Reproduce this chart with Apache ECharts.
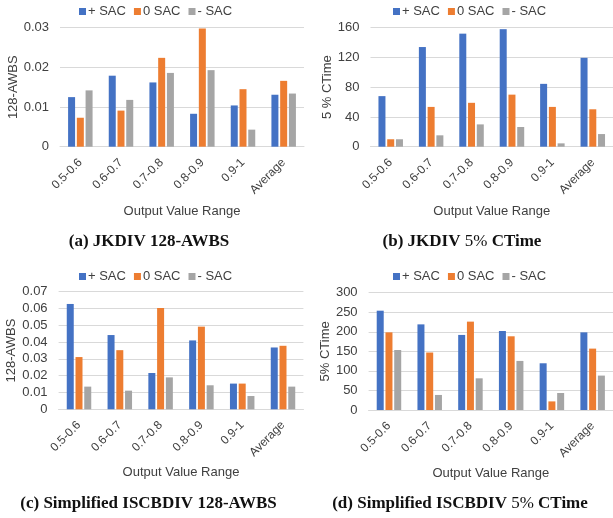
<!DOCTYPE html>
<html>
<head>
<meta charset="utf-8">
<script src="https://cdn.jsdelivr.net/npm/echarts@6/dist/echarts.min.js"></script>
<style>html,body{margin:0;padding:0;background:#fff}#c{width:613px;height:518px}</style>
</head>
<body>
<div id="c"></div>
<script>
const categories = ['0.5-0.6', '0.6-0.7', '0.7-0.8', '0.8-0.9', '0.9-1', 'Average'];
const seriesNames = ['+ SAC', '0 SAC', '- SAC'];

// (a) JKDIV 128-AWBS
const jkAwbsPlus  = [0.0125, 0.0179, 0.0162, 0.0083, 0.0104, 0.0131];
const jkAwbsZero  = [0.0073, 0.0091, 0.0224, 0.0298, 0.0145, 0.0166];
const jkAwbsMinus = [0.0142, 0.0118, 0.0186, 0.0193, 0.0043, 0.0134];

// (b) JKDIV 5% CTime
const jkTimePlus  = [68, 134, 152, 158, 84.5, 119.5];
const jkTimeZero  = [10, 53.5, 59, 70, 53.5, 50.3];
const jkTimeMinus = [10, 15.3, 30, 26.5, 4.5, 17];

// (c) Simplified ISCBDIV 128-AWBS
const isAwbsPlus  = [0.0627, 0.0442, 0.0216, 0.0410, 0.0153, 0.0368];
const isAwbsZero  = [0.0311, 0.0352, 0.0603, 0.0492, 0.0153, 0.0378];
const isAwbsMinus = [0.0135, 0.0111, 0.0190, 0.0143, 0.0079, 0.0135];

// (d) Simplified ISCBDIV 5% CTime
const isTimePlus  = [254, 219, 192, 202, 119.5, 198.6];
const isTimeZero  = [198.6, 147, 226, 188.5, 22, 157];
const isTimeMinus = [153.5, 38.5, 81, 125.5, 43.5, 88];

const yTitles = ['128-AWBS', '5 % CTime', '128-AWBS', '5% CTime'];
const xTitle = 'Output Value Range';
const captions = [
  '{b|(a) JKDIV 128-AWBS}',
  '{b|(b) JKDIV }{r|5%}{b| CTime}',
  '{b|(c) Simplified ISCBDIV 128-AWBS}',
  '{b|(d) Simplified ISCBDIV }{r|5%}{b| CTime}'
];

const colors = ['#4472C4', '#ED7D31', '#A5A5A5'];
const txt = '#404040';
const gridC = '#D9D9D9';
const ff = 'Liberation Sans, Arial, sans-serif';
const serif = 'Liberation Serif, Times New Roman, serif';

const panels = [
  {data: [jkAwbsPlus, jkAwbsZero, jkAwbsMinus], max: 0.03, interval: 0.01,
   grid: {left: 60, top: 27.7, width: 244, height: 119}, nameGap: 35, legend: {left: 79, top: 5}},
  {data: [jkTimePlus, jkTimeZero, jkTimeMinus], max: 160, interval: 40,
   grid: {left: 370.5, top: 27.7, width: 246.5, height: 119}, nameGap: 31, legend: {left: 393, top: 5}},
  {data: [isAwbsPlus, isAwbsZero, isAwbsMinus], max: 0.07, interval: 0.01,
   grid: {left: 58.6, top: 291.7, width: 244.8, height: 117.6}, nameGap: 36, legend: {left: 79, top: 270}},
  {data: [isTimePlus, isTimeZero, isTimeMinus], max: 300, interval: 50,
   grid: {left: 368.6, top: 292.7, width: 248.6, height: 117.3}, nameGap: 37, legend: {left: 393, top: 270}}
];

const option = {
  animation: false,
  color: colors,
  textStyle: {fontFamily: ff},
  grid: [], xAxis: [], yAxis: [], series: [], legend: [], graphic: []
};

panels.forEach((p, i) => {
  option.grid.push(Object.assign({containLabel: false}, p.grid));
  option.xAxis.push({
    type: 'category', gridIndex: i, data: categories,
    axisLine: {lineStyle: {color: gridC}}, axisTick: {show: false},
    axisLabel: {rotate: 45, fontSize: 12, color: txt, margin: 14, interval: 0},
    name: xTitle, nameLocation: 'middle', nameGap: i < 2 ? 58 : 57,
    nameTextStyle: {fontSize: 13, color: txt}
  });
  option.yAxis.push({
    type: 'value', gridIndex: i, min: 0, max: p.max, interval: p.interval,
    axisLine: {show: false}, axisTick: {show: false},
    splitLine: {lineStyle: {color: gridC}},
    axisLabel: {fontSize: 13, color: txt, margin: 11},
    name: yTitles[i], nameLocation: 'middle', nameGap: p.nameGap, nameRotate: 90,
    nameTextStyle: {fontSize: 13, color: txt}
  });
  p.data.forEach((arr, k) => {
    option.series.push({
      type: 'bar', name: seriesNames[k], xAxisIndex: i, yAxisIndex: i,
      data: arr, barWidth: 7, barGap: '25%', itemStyle: {color: colors[k]}
    });
  });
  option.legend.push({
    data: seriesNames, left: p.legend.left, top: p.legend.top, padding: 0,
    icon: 'rect', itemWidth: 7, itemHeight: 7, itemGap: 8,
    textStyle: {fontSize: 13, color: txt, padding: [0, 0, 0, -3]}, selectedMode: false
  });
});

const capPos = [[149, 242], [462, 242], [148.5, 504], [460, 504]];
captions.forEach((c, i) => {
  option.graphic.push({
    type: 'text', x: capPos[i][0], y: capPos[i][1],
    style: {
      text: c, align: 'center', verticalAlign: 'middle',
      rich: {
        b: {fontFamily: serif, fontWeight: 'bold', fontSize: 17, fill: '#111', color: '#111'},
        r: {fontFamily: serif, fontWeight: 'normal', fontSize: 17, fill: '#111', color: '#111'}
      }
    }
  });
});

const chart = echarts.init(document.getElementById('c'), null, {renderer: 'canvas'});
chart.setOption(option);
</script>
</body>
</html>
